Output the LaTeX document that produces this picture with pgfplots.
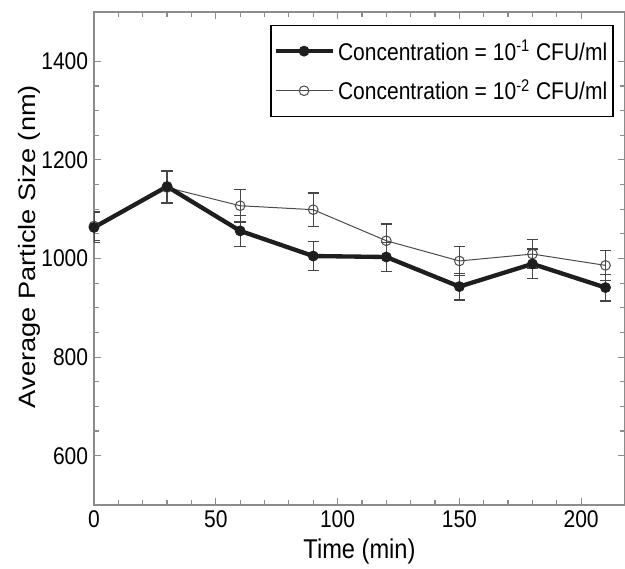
\documentclass[border=0pt]{standalone}
\usepackage{fontspec}
\setmainfont{Liberation Sans}
\newfontfamily\tallfont[FakeStretch=0.87]{Liberation Sans}
\newfontfamily\longfont[FakeStretch=1.15]{Liberation Sans}
\usepackage{pgfplots}
\pgfplotsset{compat=1.18}
\usetikzlibrary{calc}
\definecolor{axgray}{RGB}{140,140,140}
\definecolor{darkline}{RGB}{30,30,30}
\definecolor{thinline}{RGB}{75,75,75}
\definecolor{errgray}{RGB}{70,70,70}

\pgfplotstableread{
t   s1    e1  s2    e2
0   1063  30  1066  30
30  1146  33  1144  33
60  1056  31  1107  33
90  1005  29  1099  34
120 1003  29  1036  34
150 943   27  995   30
180 989   30  1009  30
210 941   27  986   30
}\sizedata

\begin{document}
\begin{tikzpicture}
\begin{axis}[
  scale only axis, width=318.6pt, height=295.8pt,
  xmin=0, xmax=218, ymin=500, ymax=1500,
  xtick={0,50,...,200}, ytick={600,800,...,1400},
  minor x tick num=4, minor y tick num=3,
  xtick pos=both, ytick pos=both, tick align=inside,
  major tick length=4pt, minor tick length=2.8pt,
  axis line style={axgray, line width=0.8pt},
  every tick/.style={axgray, line width=0.7pt},
  /pgf/number format/assume math mode=true,
  /pgf/number format/1000 sep={},
  tick label style={font=\tallfont\fontsize{14.5}{17}\selectfont},
  xlabel={Time (min)}, ylabel={Average Particle Size (nm)},
  xlabel style={font=\tallfont\fontsize{16.3}{19}\selectfont,
    at={(axis description cs:0.5,-0.095)}, anchor=center},
  ylabel style={font=\longfont\fontsize{14.2}{17}\selectfont,
    at={(axis description cs:-0.122,0.524)}, anchor=center},
  reverse legend,
  legend style={at={(0.979,0.974)}, anchor=north east, draw=black, line width=0.9pt,
    font=\tallfont\fontsize{14.5}{17}\selectfont, inner xsep=1.5pt, inner ysep=6.5pt, row sep=6pt},
  legend cell align=left,
  legend image code/.code={\draw[mark repeat=2,mark phase=2,#1] plot coordinates {(0cm,0cm) (0.6cm,0cm) (1.2cm,0cm)};},
]
\addplot[thinline, line width=0.6pt, mark=o, mark size=2.9pt,
  mark options={solid, draw=thinline, line width=0.6pt},
  error bars/.cd, y dir=both, y explicit,
  error bar style={errgray, line width=0.75pt},
  error mark options={rotate=90, mark size=3.4pt, errgray, line width=0.75pt}]
  table[x=t, y=s2, y error=e2] {\sizedata};
\addlegendentry{Concentration = 10\textsuperscript{-2} CFU/ml}
\addplot[darkline, line width=2.6pt, mark=*, mark size=3pt,
  mark options={solid, fill=darkline, draw=darkline, line width=0.5pt},
  error bars/.cd, y dir=both, y explicit,
  error bar style={errgray, line width=0.75pt},
  error mark options={rotate=90, mark size=3.4pt, errgray, line width=0.75pt}]
  table[x=t, y=s1, y error=e1] {\sizedata};
\addlegendentry{Concentration = 10\textsuperscript{-1} CFU/ml}
\end{axis}
\pgfresetboundingbox
\path[use as bounding box] ($(current axis.south west)+(-56.4pt,-38.4pt)$) rectangle ($(current axis.north east)+(0pt,7.2pt)$);
\end{tikzpicture}
\end{document}
